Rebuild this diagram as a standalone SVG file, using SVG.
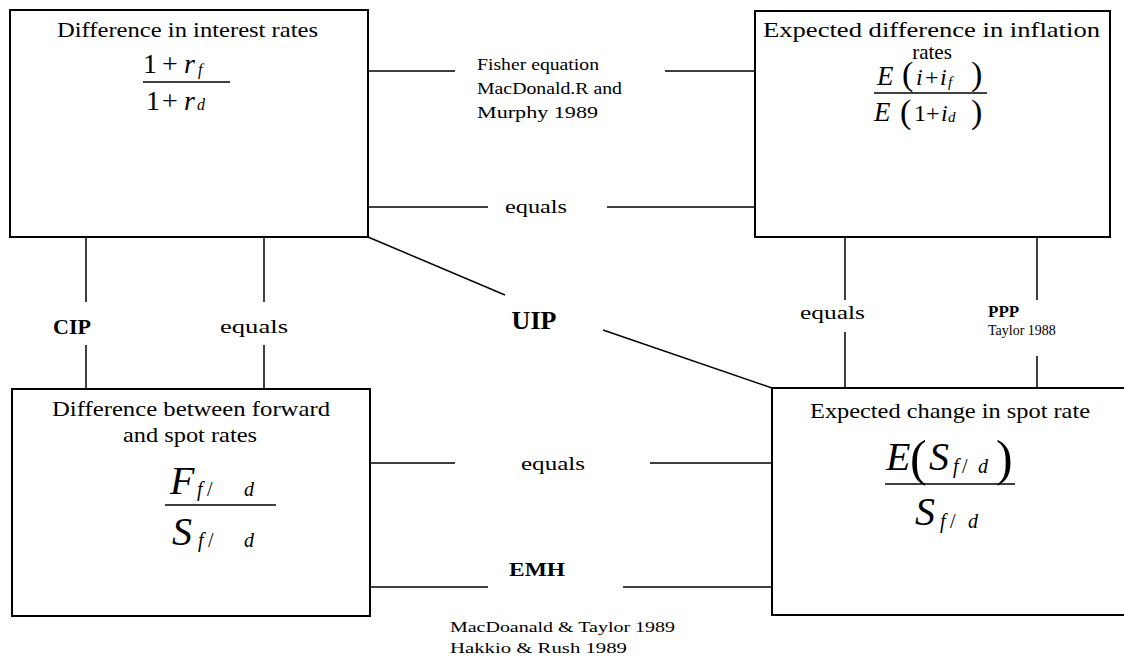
<svg xmlns="http://www.w3.org/2000/svg" width="1124" height="658" viewBox="0 0 1124 658">
<style>
.box{fill:#fff;stroke:#000;stroke-width:2}
.ln{stroke:#000;stroke-width:1.5;fill:none}
.bar{stroke:#000;stroke-width:1.5}
text{font-family:"Liberation Serif","Times New Roman",serif;fill:#000}
.it{font-style:italic}
.b{font-weight:bold}
.ttl{font-size:21px}
.lbl{font-size:18px}
.ref{font-size:15px}
.mid{text-anchor:middle}
</style>
<rect width="1124" height="658" fill="#fff"/>
<g id="connectors">
  <path class="ln" d="M368 71H455M665 71H755"/>
  <path class="ln" d="M368 207H488M607 207H755"/>
  <path class="ln" d="M368 237L505 295M603 330L772 388"/>
  <path class="ln" d="M86 237V302M86 345V389"/>
  <path class="ln" d="M264 237V302M264 345V389"/>
  <path class="ln" d="M845 237V300M845 332V388"/>
  <path class="ln" d="M1037 237V300M1037 356V388"/>
  <path class="ln" d="M370 463H455M650 463H772"/>
  <path class="ln" d="M370 587H488M623 587H772"/>
</g>
<g id="connector-labels">
  <text class="ref" x="477" y="70" textLength="122" lengthAdjust="spacingAndGlyphs" style="font-size:17px">Fisher equation</text>
  <text class="ref" x="477" y="94" textLength="145" lengthAdjust="spacingAndGlyphs" style="font-size:17px">MacDonald.R and</text>
  <text class="ref" x="477" y="118" textLength="121" lengthAdjust="spacingAndGlyphs" style="font-size:17px">Murphy 1989</text>
  <text class="lbl" x="505" y="213" textLength="62" lengthAdjust="spacingAndGlyphs">equals</text>
  <text class="b mid" x="72" y="334" style="font-size:22px">CIP</text>
  <text class="lbl" x="220" y="333" textLength="68" lengthAdjust="spacingAndGlyphs">equals</text>
  <text class="b mid" x="534" y="329" style="font-size:26px">UIP</text>
  <text class="lbl" x="800" y="319" textLength="65" lengthAdjust="spacingAndGlyphs">equals</text>
  <text class="b" x="988" y="317" style="font-size:17px">PPP</text>
  <text x="988" y="335" style="font-size:14px">Taylor 1988</text>
  <text class="lbl" x="521" y="470" textLength="64" lengthAdjust="spacingAndGlyphs">equals</text>
  <text class="b mid" x="537" y="576" textLength="56" lengthAdjust="spacingAndGlyphs" style="font-size:19px">EMH</text>
  <text class="ref" x="450" y="632" textLength="225" lengthAdjust="spacingAndGlyphs">MacDoanald &amp; Taylor 1989</text>
  <text class="ref" x="450" y="653" textLength="177" lengthAdjust="spacingAndGlyphs">Hakkio &amp; Rush 1989</text>
</g>
<g id="node-interest">
  <rect class="box" x="10" y="10" width="358" height="227"/>
  <text class="ttl" x="57" y="37" textLength="261" lengthAdjust="spacingAndGlyphs">Difference in interest rates</text>
  <text x="143" y="73" style="font-size:28px">1</text>
  <text x="162" y="73" style="font-size:28px">+</text>
  <text class="it" x="184" y="73" style="font-size:28px">r</text>
  <text class="it" x="198" y="75" style="font-size:16px">f</text>
  <line class="bar" x1="143" y1="82" x2="230" y2="82"/>
  <text x="146" y="110" style="font-size:28px">1</text>
  <text x="162" y="110" style="font-size:28px">+</text>
  <text class="it" x="184" y="110" style="font-size:28px">r</text>
  <text class="it" x="197" y="110" style="font-size:16px">d</text>
</g>
<g id="node-inflation">
  <rect class="box" x="755" y="11" width="355" height="226"/>
  <text class="ttl" x="763" y="37" textLength="337" lengthAdjust="spacingAndGlyphs">Expected difference in inflation</text>
  <text class="ttl mid" x="932" y="59">rates</text>
  <text class="it" x="877" y="85" style="font-size:27px">E</text>
  <text x="902" y="85" style="font-size:34px">(</text>
  <text class="it" x="916" y="85" style="font-size:24px">i</text>
  <text x="925" y="85" style="font-size:24px">+</text>
  <text class="it" x="940" y="85" style="font-size:24px">i</text>
  <text class="it" x="948" y="87" style="font-size:15px">f</text>
  <text x="971" y="85" style="font-size:34px">)</text>
  <line class="bar" x1="874" y1="93" x2="987" y2="93"/>
  <text class="it" x="874" y="121" style="font-size:27px">E</text>
  <text x="900" y="123" style="font-size:34px">(</text>
  <text x="914" y="121" style="font-size:24px">1</text>
  <text x="926" y="121" style="font-size:24px">+</text>
  <text class="it" x="941" y="121" style="font-size:24px">i</text>
  <text class="it" x="948" y="122" style="font-size:15px">d</text>
  <text x="971" y="123" style="font-size:34px">)</text>
</g>
<g id="node-forward">
  <rect class="box" x="12" y="389" width="358" height="227"/>
  <text class="ttl" x="52" y="416" textLength="278" lengthAdjust="spacingAndGlyphs">Difference between forward</text>
  <text class="ttl" x="123" y="442" textLength="134" lengthAdjust="spacingAndGlyphs">and spot rates</text>
  <text class="it" x="170" y="494" style="font-size:40px">F</text>
  <text class="it" x="197" y="496" style="font-size:20px">f</text>
  <text x="207" y="496" style="font-size:20px">/</text>
  <text class="it" x="244" y="496" style="font-size:20px">d</text>
  <line class="bar" x1="165" y1="505" x2="276" y2="505"/>
  <text class="it" x="172" y="545" style="font-size:40px">S</text>
  <text class="it" x="198" y="547" style="font-size:20px">f</text>
  <text x="208" y="547" style="font-size:20px">/</text>
  <text class="it" x="244" y="547" style="font-size:20px">d</text>
</g>
<g id="node-spot">
  <rect class="box" x="772" y="388" width="354" height="227"/>
  <text class="ttl" x="810" y="418" textLength="280" lengthAdjust="spacingAndGlyphs">Expected change in spot rate</text>
  <text class="it" x="886" y="470" style="font-size:40px">E</text>
  <text x="910" y="475" style="font-size:50px">(</text>
  <text class="it" x="929" y="470" style="font-size:40px">S</text>
  <text class="it" x="953" y="473" style="font-size:20px">f</text>
  <text x="962" y="473" style="font-size:20px">/</text>
  <text class="it" x="978" y="473" style="font-size:20px">d</text>
  <text x="996" y="475" style="font-size:50px">)</text>
  <line class="bar" x1="885" y1="484" x2="1015" y2="484"/>
  <text class="it" x="915" y="525" style="font-size:40px">S</text>
  <text class="it" x="940" y="528" style="font-size:20px">f</text>
  <text x="950" y="528" style="font-size:20px">/</text>
  <text class="it" x="968" y="528" style="font-size:20px">d</text>
</g>
</svg>
